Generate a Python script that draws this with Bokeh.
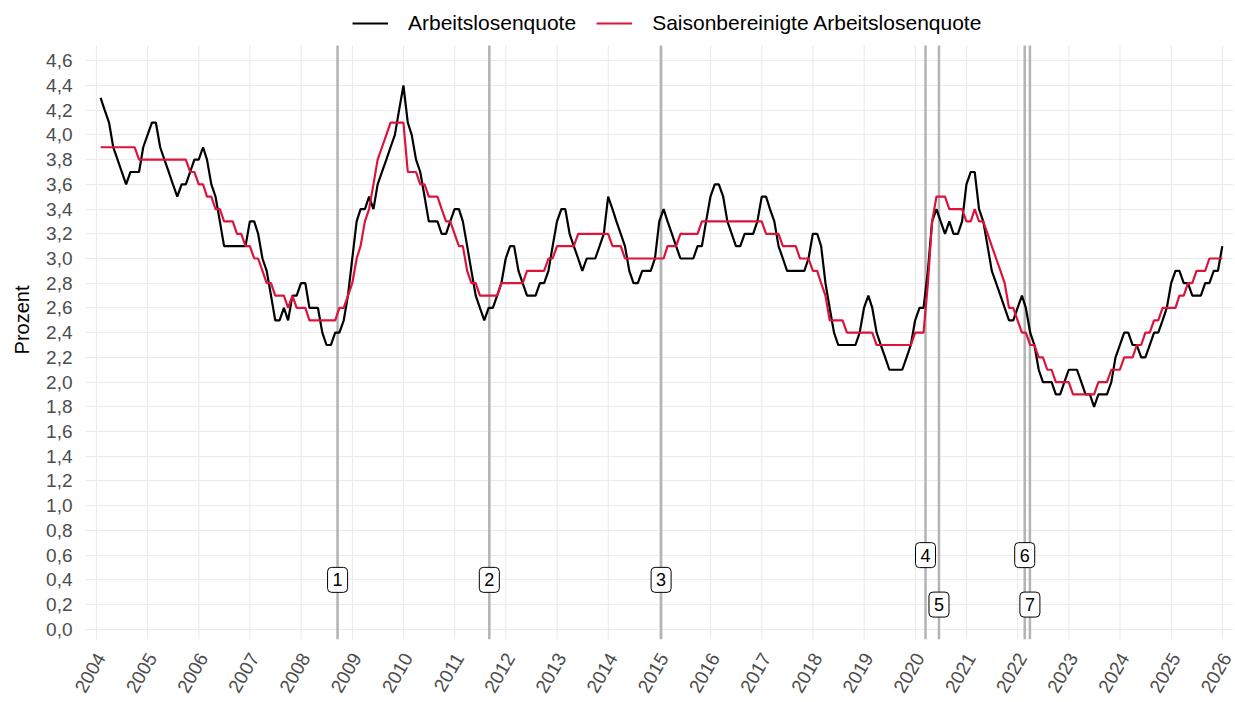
import math
import pandas as pd
from bokeh.plotting import figure
from bokeh.models import (ColumnDataSource, FixedTicker, DatetimeTickFormatter,
                          CustomJSTickFormatter, Legend, LegendItem, Range1d)
from bokeh.core.properties import value
from bokeh.embed import file_html
from bokeh.resources import INLINE

# ---------------- data ----------------
start_month = "2004-01"
arbeitslosenquote = [
    4.3, 4.2, 4.1, 3.9, 3.8, 3.7, 3.6, 3.7, 3.7, 3.7, 3.9, 4.0,   # 2004
    4.1, 4.1, 3.9, 3.8, 3.7, 3.6, 3.5, 3.6, 3.6, 3.7, 3.8, 3.8,   # 2005
    3.9, 3.8, 3.6, 3.5, 3.3, 3.1, 3.1, 3.1, 3.1, 3.1, 3.1, 3.3,   # 2006
    3.3, 3.2, 3.0, 2.9, 2.7, 2.5, 2.5, 2.6, 2.5, 2.7, 2.7, 2.8,   # 2007
    2.8, 2.6, 2.6, 2.6, 2.4, 2.3, 2.3, 2.4, 2.4, 2.5, 2.7, 3.0,   # 2008
    3.3, 3.4, 3.4, 3.5, 3.4, 3.6, 3.7, 3.8, 3.9, 4.0, 4.2, 4.4,   # 2009
    4.1, 4.0, 3.8, 3.7, 3.5, 3.3, 3.3, 3.3, 3.2, 3.2, 3.3, 3.4,   # 2010
    3.4, 3.3, 3.1, 2.9, 2.7, 2.6, 2.5, 2.6, 2.6, 2.7, 2.8, 3.0,   # 2011
    3.1, 3.1, 2.9, 2.8, 2.7, 2.7, 2.7, 2.8, 2.8, 2.9, 3.1, 3.3,   # 2012
    3.4, 3.4, 3.2, 3.1, 3.0, 2.9, 3.0, 3.0, 3.0, 3.1, 3.2, 3.5,   # 2013
    3.4, 3.3, 3.2, 3.1, 2.9, 2.8, 2.8, 2.9, 2.9, 2.9, 3.0, 3.3,   # 2014
    3.4, 3.3, 3.2, 3.1, 3.0, 3.0, 3.0, 3.0, 3.1, 3.1, 3.3, 3.5,   # 2015
    3.6, 3.6, 3.5, 3.3, 3.2, 3.1, 3.1, 3.2, 3.2, 3.2, 3.3, 3.5,   # 2016
    3.5, 3.4, 3.3, 3.1, 3.0, 2.9, 2.9, 2.9, 2.9, 2.9, 3.0, 3.2,   # 2017
    3.2, 3.1, 2.8, 2.6, 2.4, 2.3, 2.3, 2.3, 2.3, 2.3, 2.4, 2.6,   # 2018
    2.7, 2.6, 2.4, 2.3, 2.2, 2.1, 2.1, 2.1, 2.1, 2.2, 2.3, 2.5,   # 2019
    2.6, 2.6, 2.9, 3.3, 3.4, 3.3, 3.2, 3.3, 3.2, 3.2, 3.3, 3.6,   # 2020
    3.7, 3.7, 3.4, 3.3, 3.1, 2.9, 2.8, 2.7, 2.6, 2.5, 2.5, 2.6,   # 2021
    2.7, 2.6, 2.4, 2.3, 2.1, 2.0, 2.0, 2.0, 1.9, 1.9, 2.0, 2.1,   # 2022
    2.1, 2.1, 2.0, 1.9, 1.9, 1.8, 1.9, 1.9, 1.9, 2.0, 2.2, 2.3,   # 2023
    2.4, 2.4, 2.3, 2.3, 2.2, 2.2, 2.3, 2.4, 2.4, 2.5, 2.6, 2.8,   # 2024
    2.9, 2.9, 2.8, 2.8, 2.7, 2.7, 2.7, 2.8, 2.8, 2.9, 2.9, 3.1,   # 2025
]
saisonbereinigt = [
    3.9, 3.9, 3.9, 3.9, 3.9, 3.9, 3.9, 3.9, 3.9, 3.8, 3.8, 3.8,   # 2004
    3.8, 3.8, 3.8, 3.8, 3.8, 3.8, 3.8, 3.8, 3.8, 3.7, 3.7, 3.6,   # 2005
    3.6, 3.5, 3.5, 3.4, 3.4, 3.3, 3.3, 3.3, 3.2, 3.2, 3.1, 3.1,   # 2006
    3.0, 3.0, 2.9, 2.8, 2.8, 2.7, 2.7, 2.7, 2.6, 2.7, 2.6, 2.6,   # 2007
    2.6, 2.5, 2.5, 2.5, 2.5, 2.5, 2.5, 2.5, 2.6, 2.6, 2.7, 2.8,   # 2008
    3.0, 3.1, 3.3, 3.4, 3.6, 3.8, 3.9, 4.0, 4.1, 4.1, 4.1, 4.1,   # 2009
    3.7, 3.7, 3.7, 3.6, 3.6, 3.5, 3.5, 3.5, 3.4, 3.3, 3.3, 3.2,   # 2010
    3.1, 3.1, 2.9, 2.8, 2.8, 2.7, 2.7, 2.7, 2.7, 2.7, 2.8, 2.8,   # 2011
    2.8, 2.8, 2.8, 2.8, 2.9, 2.9, 2.9, 2.9, 2.9, 3.0, 3.0, 3.1,   # 2012
    3.1, 3.1, 3.1, 3.1, 3.2, 3.2, 3.2, 3.2, 3.2, 3.2, 3.2, 3.2,   # 2013
    3.1, 3.1, 3.1, 3.0, 3.0, 3.0, 3.0, 3.0, 3.0, 3.0, 3.0, 3.0,   # 2014
    3.0, 3.1, 3.1, 3.1, 3.2, 3.2, 3.2, 3.2, 3.2, 3.3, 3.3, 3.3,   # 2015
    3.3, 3.3, 3.3, 3.3, 3.3, 3.3, 3.3, 3.3, 3.3, 3.3, 3.3, 3.3,   # 2016
    3.2, 3.2, 3.2, 3.2, 3.1, 3.1, 3.1, 3.1, 3.0, 3.0, 3.0, 2.9,   # 2017
    2.9, 2.8, 2.7, 2.5, 2.5, 2.5, 2.5, 2.4, 2.4, 2.4, 2.4, 2.4,   # 2018
    2.4, 2.4, 2.3, 2.3, 2.3, 2.3, 2.3, 2.3, 2.3, 2.3, 2.3, 2.4,   # 2019
    2.4, 2.4, 2.8, 3.3, 3.5, 3.5, 3.5, 3.4, 3.4, 3.4, 3.4, 3.3,   # 2020
    3.3, 3.4, 3.3, 3.3, 3.2, 3.1, 3.0, 2.9, 2.8, 2.6, 2.6, 2.5,   # 2021
    2.4, 2.4, 2.3, 2.3, 2.2, 2.2, 2.1, 2.1, 2.0, 2.0, 2.0, 2.0,   # 2022
    1.9, 1.9, 1.9, 1.9, 1.9, 1.9, 2.0, 2.0, 2.0, 2.1, 2.1, 2.1,   # 2023
    2.2, 2.2, 2.2, 2.3, 2.3, 2.4, 2.4, 2.5, 2.5, 2.6, 2.6, 2.6,   # 2024
    2.6, 2.7, 2.7, 2.8, 2.8, 2.9, 2.9, 2.9, 3.0, 3.0, 3.0, 3.0,   # 2025
]
event_labels = ["1", "2", "3", "4", "5", "6", "7"]
event_dates = ["2008-09-17", "2011-09-05", "2015-01-13", "2020-03-14",
               "2020-06-18", "2022-02-20", "2022-03-29"]
event_label_y = [0.4, 0.4, 0.4, 0.6, 0.2, 0.6, 0.2]
year_ticks = list(range(2004, 2027))
y_ticks = [round(0.2 * k, 1) for k in range(24)]
series_names = ["Arbeitslosenquote", "Saisonbereinigte Arbeitslosenquote"]

# ---------------- layout constants ----------------
FONT = "Liberation Sans"
GRID = "#ebebeb"
W, H = 1235, 702
ML, MR, MT, MB = 85, 2, 0, 63
PX_PER_UNIT = 123.6          # vertical scale of the value axis
ZERO_PX = 628.8              # pixel row of the 0,0 line
FRAME_BOTTOM = H - MB
Y_LO = -(FRAME_BOTTOM - ZERO_PX) / PX_PER_UNIT
Y_HI = ZERO_PX / PX_PER_UNIT
PANEL_TOP = 4.723            # upper end of the plotting panel (below the legend)

# ---------------- build ----------------
n = len(arbeitslosenquote)
dates = pd.period_range(start_month, periods=n, freq="M").to_timestamp(how="end").normalize()
src = ColumnDataSource(dict(date=dates, alq=arbeitslosenquote, sa=saisonbereinigt))
ev = ColumnDataSource(dict(date=pd.to_datetime(event_dates), y=event_label_y, label=event_labels,
                           y0=[Y_LO] * len(event_dates), y1=[PANEL_TOP] * len(event_dates)))
year_dates = pd.to_datetime([f"{y}-01-01" for y in year_ticks])
gsrc = ColumnDataSource(dict(date=year_dates, y0=[Y_LO] * len(year_ticks),
                             y1=[PANEL_TOP] * len(year_ticks)))

def ms(ts):
    return pd.Timestamp(ts).value / 1e6

label_ms = [ms(f"{y}-02-01") for y in year_ticks]

p = figure(width=W, height=H, x_axis_type="datetime",
           x_range=Range1d(pd.Timestamp("2003-10-15"), pd.Timestamp("2026-03-21")),
           y_range=Range1d(Y_LO, Y_HI),
           output_backend="svg", toolbar_location=None,
           min_border_left=ML, min_border_right=MR, min_border_top=MT, min_border_bottom=MB)
p.outline_line_color = None
p.background_fill_color = "white"
p.border_fill_color = "white"

p.xgrid.grid_line_color = None
p.ygrid.ticker = FixedTicker(ticks=y_ticks)
p.ygrid.grid_line_color = GRID
p.ygrid.grid_line_width = 1.1

# vertical year grid lines, limited to the panel
p.segment(x0="date", y0="y0", x1="date", y1="y1", source=gsrc,
          line_color=GRID, line_width=1.1)

# x axis: rotated year labels
ax = p.xaxis[0]
ax.ticker = FixedTicker(ticks=label_ms)
ax.formatter = DatetimeTickFormatter(years="%Y", months="%Y", days="%Y", hours="%Y",
                                     minutes="%Y", seconds="%Y", milliseconds="%Y",
                                     microseconds="%Y")
ax.major_label_orientation = math.pi / 3
ax.major_tick_line_color = None
ax.major_tick_out = 0
ax.major_tick_in = 0
ax.minor_tick_line_color = None
ax.axis_line_color = None
ax.major_label_standoff = 15
ax.major_label_text_font = FONT
ax.major_label_text_font_size = "19px"
ax.major_label_text_color = "#4d4d4d"

ya = p.yaxis[0]
ya.ticker = FixedTicker(ticks=y_ticks)
ya.formatter = CustomJSTickFormatter(code="return tick.toFixed(1).replace('.', ',');")
ya.major_tick_line_color = None
ya.major_tick_out = 0
ya.major_tick_in = 0
ya.minor_tick_line_color = None
ya.axis_line_color = None
ya.major_label_standoff = 13
ya.major_label_text_font = FONT
ya.major_label_text_font_size = "19px"
ya.major_label_text_color = "#4d4d4d"
ya.axis_label = "Prozent"
ya.axis_label_text_font = FONT
ya.axis_label_text_font_size = "20px"
ya.axis_label_text_font_style = "normal"
ya.axis_label_text_color = "black"
ya.axis_label_standoff = 10

p.segment(x0="date", y0="y0", x1="date", y1="y1", source=ev,
          line_color="#b3b3b3", line_width=2.5)
r_black = p.line("date", "alq", source=src, line_color="black", line_width=2.2)
r_red = p.line("date", "sa", source=src, line_color="#DC143C", line_width=2.2)
p.text(x="date", y="y", text="label", source=ev,
       text_font=value(FONT), text_font_size="18px", text_color="black",
       text_align="center", text_baseline="middle",
       background_fill_color="white", border_line_color="black", border_line_width=1,
       border_radius=4, padding=dict(x=5, y=6))

legend = Legend(items=[LegendItem(label=series_names[0], renderers=[r_black]),
                       LegendItem(label=series_names[1], renderers=[r_red])],
                orientation="horizontal", location=(267, FRAME_BOTTOM - 35),
                padding=0, margin=0, spacing=20, label_standoff=20,
                glyph_width=36, glyph_height=20,
                label_text_font=FONT, label_text_font_size="21px", label_text_color="black",
                border_line_color=None, background_fill_alpha=0)
p.add_layout(legend, "center")

open("out.html", "w").write(file_html(p, INLINE))
